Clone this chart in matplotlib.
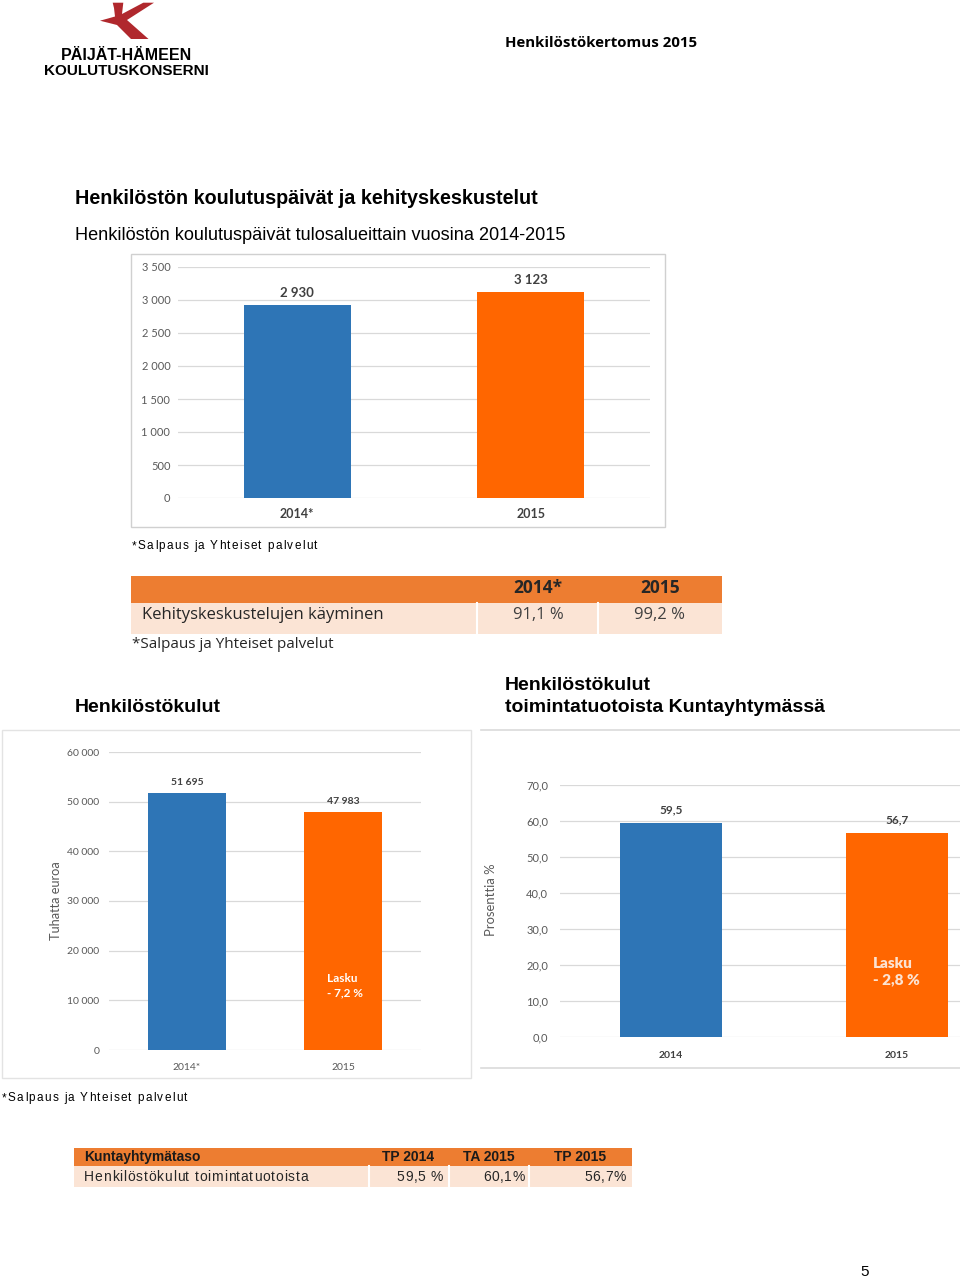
import matplotlib as mpl
import matplotlib.pyplot as plt
from matplotlib.font_manager import FontProperties
from matplotlib.patches import Rectangle, Polygon
from matplotlib.lines import Line2D

# =============================================================================
# Data
# =============================================================================

koulutus_years = ["2014*", "2015"]
koulutus_days = [2930, 3123]

kehitys_cols = ["2014*", "2015"]
kehitys_row = "Kehityskeskustelujen käyminen"
kehitys_vals = ["91,1 %", "99,2 %"]

kulut_years = ["2014*", "2015"]
kulut_values = [51695, 47983]
kulut_change = "Lasku\n- 7,2 %"

osuus_years = ["2014", "2015"]
osuus_values = [59.5, 56.7]
osuus_change = "Lasku\n- 2,8 %"

kt_cols = ["Kuntayhtymätaso", "TP 2014", "TA 2015", "TP 2015"]
kt_row = ["Henkilöstökulut toimintatuotoista", "59,5 %", "60,1%", "56,7%"]

footnote = "*Salpaus ja Yhteiset palvelut"

BLUE = "#2E75B6"
ORANGE = "#FF6600"
HEAD = "#ED7D31"
PEACH = "#FBE4D5"
GRID = "#D9D9D9"
TICK = "#595959"

W, H = 960, 1280
mpl.rcParams["font.family"] = ["Liberation Sans", "DejaVu Sans"]

fig = plt.figure(figsize=(W / 100, H / 100), dpi=100)
renderer = fig.canvas.get_renderer()


def fx(x):
    return x / W


def fy(y):
    return 1 - y / H


def ax_px(x0, y0, x1, y1):
    return fig.add_axes([fx(x0), fy(y1), (x1 - x0) / W, (y1 - y0) / H])


def txt(x, y, s, **kw):
    kw.setdefault("va", "center")
    fig.text(fx(x), fy(y), s, **kw)


def rect(x0, y0, x1, y1, **kw):
    fig.patches.append(Rectangle((fx(x0), fy(y1)), (x1 - x0) / W, (y1 - y0) / H,
                                 transform=fig.transFigure, **kw))


def hline(x0, x1, y, **kw):
    fig.lines.append(Line2D([fx(x0), fx(x1)], [fy(y), fy(y)], transform=fig.transFigure, **kw))


def vline(x, y0, y1, **kw):
    fig.lines.append(Line2D([fx(x), fx(x)], [fy(y0), fy(y1)], transform=fig.transFigure, **kw))


def text_w(s, prop):
    # width of s including trailing spaces (measured against a trailing "x")
    w1 = renderer.get_text_width_height_descent(s + "x", prop, ismath=False)[0]
    w2 = renderer.get_text_width_height_descent("x", prop, ismath=False)[0]
    return w1 - w2


def tracked(x, y_base, s, size, track, weight="normal", ha="left", color="black"):
    """Letter-spaced text, like the loosely set text of the original document."""
    prop = FontProperties(family="Liberation Sans", size=size, weight=weight)
    total = text_w(s, prop) + track * (len(s) - 1)
    start = x - total if ha == "right" else x
    for i, ch in enumerate(s):
        if ch == " ":
            continue
        cx = start + text_w(s[:i], prop) + track * i
        fig.text(fx(cx), fy(y_base), ch, fontproperties=prop, va="baseline", color=color)


def fmt_space(v):
    return f"{v:,.0f}".replace(",", " ")


def style_axes(ax, ticks, labels, tick_size):
    for s in ax.spines.values():
        s.set_visible(False)
    ax.set_yticks(ticks)
    ax.set_yticklabels(labels, fontsize=tick_size, color=TICK, family="Lato")
    ax.yaxis.grid(True, color=GRID, linewidth=0.9)
    ax.set_axisbelow(True)
    ax.tick_params(length=0)


# =============================================================================
# Header / logo
# =============================================================================

logo = [(112.7, 2.7), (123.3, 2.7), (122, 14), (143.3, 2.7), (154, 2.7), (127, 20),
        (148.5, 39), (131, 39), (117, 25), (100, 20.7), (108, 18.5), (115, 16.5),
        (114, 8)]
fig.patches.append(Polygon([(fx(x), fy(y)) for x, y in logo], closed=True,
                           transform=fig.transFigure, facecolor="#B0282D", edgecolor="none"))
txt(126, 55, "PÄIJÄT-HÄMEEN", fontsize=11.5, fontweight="heavy", ha="center")
txt(126, 71, "KOULUTUSKONSERNI", fontsize=11, fontweight="heavy", ha="center")
txt(601, 43, "Henkilöstökertomus 2015", fontsize=10.8, fontweight="bold", ha="center",
    family="Open Sans")

txt(75, 199, "Henkilöstön koulutuspäivät ja kehityskeskustelut", fontsize=14.2, fontweight="bold")
txt(75, 236, "Henkilöstön koulutuspäivät tulosalueittain vuosina 2014-2015", fontsize=13.1)

# =============================================================================
# Chart 1: koulutuspäivät
# =============================================================================

rect(131, 254, 665, 527, facecolor="none", edgecolor="#D0D0D0", linewidth=1)
ax1 = ax_px(178, 267, 650, 498)
x1 = range(len(koulutus_years))
ax1.bar(x1, koulutus_days, width=0.457, color=[BLUE, ORANGE])
ax1.set_xlim(-0.51, 1.51)
ax1.set_ylim(0, 3500)
t1 = list(range(0, 3501, 500))
style_axes(ax1, t1, [fmt_space(v) for v in t1], 8)
ax1.set_xticks(list(x1))
ax1.set_xticklabels(koulutus_years, fontsize=9, fontweight="bold", color="#404040", family="Lato")
ax1.tick_params(axis="x", pad=7)
ax1.tick_params(axis="y", pad=5.5)
for i, v in enumerate(koulutus_days):
    ax1.text(i, v + 90, fmt_space(v), ha="center", va="bottom", fontsize=9.5,
             fontweight="bold", color="#404040", family="Lato")

tracked(132, 549, footnote, 8.5, 1.3)

# =============================================================================
# Kehityskeskustelut table
# =============================================================================

rect(131, 576, 722, 603, facecolor=HEAD, edgecolor="none")
rect(131, 603, 722, 634, facecolor=PEACH, edgecolor="none")
for xs in (477, 598):
    vline(xs, 603, 634, color="white", linewidth=1.5)
col_c = [538, 660]
for c, lab, val in zip(col_c, kehitys_cols, kehitys_vals):
    txt(c, 588, lab, fontsize=12.5, fontweight="bold", ha="center", color="#262626",
        family="Open Sans")
    txt(c, 615, val, fontsize=12, ha="center", color="#404040", family="Open Sans")
txt(142, 615, kehitys_row, fontsize=12, color="#262626", family="Open Sans")
txt(132, 644, footnote, fontsize=11, color="#262626", family="Open Sans")

# =============================================================================
# Chart 2: henkilöstökulut
# =============================================================================

txt(75, 707, "Henkilöstökulut", fontsize=14, fontweight="bold")
txt(505, 685, "Henkilöstökulut", fontsize=14, fontweight="bold")
txt(505, 708, "toimintatuotoista Kuntayhtymässä", fontsize=14, fontweight="bold")

rect(2, 730, 471, 1078, facecolor="none", edgecolor="#E3E3E3", linewidth=1)
ax2 = ax_px(109, 752, 421, 1050)
x2 = range(len(kulut_years))
ax2.bar(x2, kulut_values, width=0.5, color=[BLUE, ORANGE])
ax2.set_xlim(-0.5, 1.5)
ax2.set_ylim(0, 60000)
t2 = list(range(0, 60001, 10000))
style_axes(ax2, t2, [fmt_space(v) for v in t2], 7.5)
ax2.set_xticks(list(x2))
ax2.set_xticklabels(kulut_years, fontsize=7.5, color=TICK, family="Lato")
ax2.tick_params(axis="x", pad=9)
ax2.tick_params(axis="y", pad=7)
ax2.set_ylabel("Tuhatta euroa", fontsize=9.2, color=TICK, family="Lato")
ax2.yaxis.set_label_coords(-0.151, 0.5)
for i, v in enumerate(kulut_values):
    ax2.text(i, v + 1200, fmt_space(v), ha="center", va="bottom", fontsize=7.5,
             fontweight="bold", color="#404040", family="Lato")
ax2.text(0.897, 12900, kulut_change, ha="left", va="center", fontsize=8.5, fontweight="bold",
         color="white", family="Lato", linespacing=1.4)

tracked(2, 1101, footnote, 8.5, 1.3)

# =============================================================================
# Chart 3: henkilöstökulut / toimintatuotot
# =============================================================================

hline(481, 960, 730, color="#DADADA", linewidth=1.2)
hline(481, 960, 1068, color="#DADADA", linewidth=1.2)
ax3 = ax_px(560, 785, 960, 1037)
x3 = range(len(osuus_years))
ax3.bar(x3, osuus_values, width=0.45, color=[BLUE, ORANGE])
ax3.set_xlim(-0.49, 1.28)
ax3.set_ylim(0, 70)
t3 = list(range(0, 71, 10))
style_axes(ax3, t3, [f"{v:.1f}".replace(".", ",") for v in t3], 8)
ax3.set_xticks(list(x3))
ax3.set_xticklabels(osuus_years, fontsize=7.5, fontweight="bold", color="#404040", family="Lato")
ax3.tick_params(axis="x", pad=10)
ax3.tick_params(axis="y", pad=8.5)
ax3.set_ylabel("Prosenttia %", fontsize=9.4, color=TICK, family="Lato")
ax3.yaxis.set_label_coords(-0.1575, 0.544)
for i, v in enumerate(osuus_values):
    ax3.text(i, v + 2.0, f"{v:.1f}".replace(".", ","), ha="center", va="bottom", fontsize=8.5,
             fontweight="bold", color="#404040", family="Lato")
ax3.text(0.894, 18.1, osuus_change, ha="left", va="center", fontsize=11, fontweight="heavy",
         color="#FCE3D2", family="Lato", linespacing=1.3)

# =============================================================================
# Kuntayhtymä table
# =============================================================================

rect(74, 1148, 632, 1166, facecolor=HEAD, edgecolor="none")
rect(74, 1166, 632, 1187, facecolor=PEACH, edgecolor="none")
for xs in (369, 449, 529):
    vline(xs, 1166, 1187, color="white", linewidth=1.5)
txt(84, 1157, kt_cols[0], fontsize=10, fontweight="bold", color="#1A1A1A")
for c, lab in zip([408, 489, 580], kt_cols[1:]):
    txt(c, 1157, lab, fontsize=10, fontweight="bold", ha="center", color="#1A1A1A")
tracked(84, 1181, kt_row[0], 10, 0.75, color="#262626")
for r, val in zip([443, 525, 626], kt_row[1:]):
    tracked(r, 1181, val, 10, 0.6, ha="right", color="#262626")

txt(865, 1272, "5", fontsize=11, ha="center")

fig.savefig("out.png", dpi=100, facecolor="white")
